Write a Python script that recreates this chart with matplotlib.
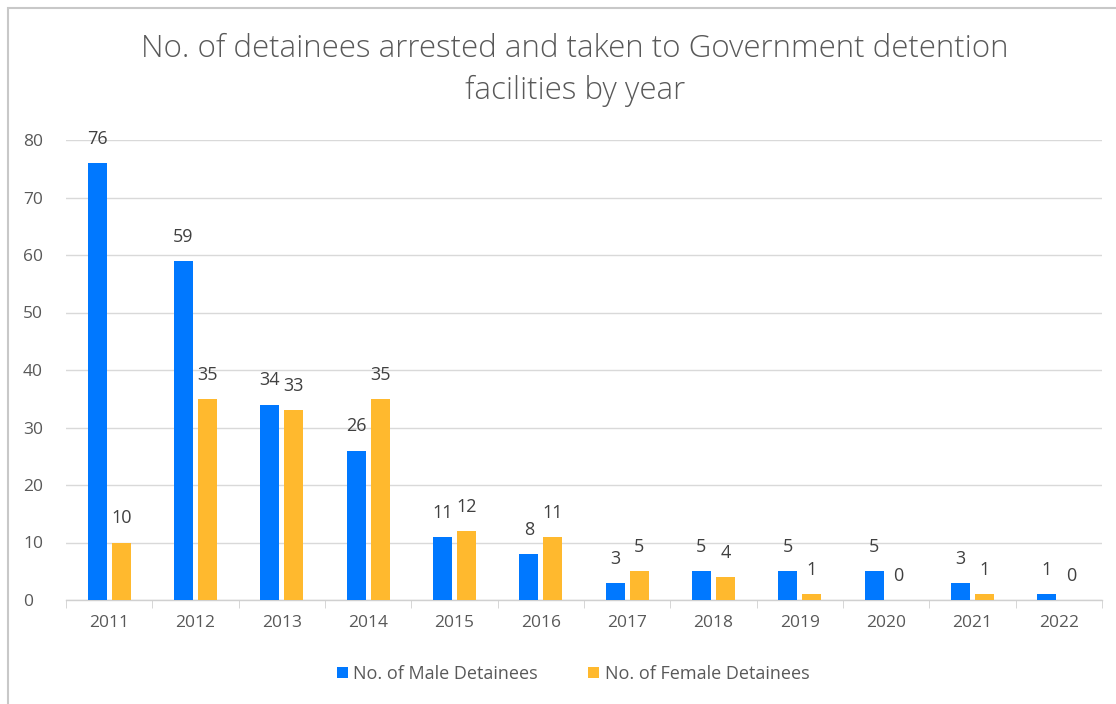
import matplotlib.pyplot as plt
import numpy as np
from matplotlib.patches import Rectangle

years = ["2011", "2012", "2013", "2014", "2015", "2016", "2017", "2018", "2019", "2020", "2021", "2022"]
male = [76, 59, 34, 26, 11, 8, 3, 5, 5, 5, 3, 1]
female = [10, 35, 33, 35, 12, 11, 5, 4, 1, 0, 1, 0]

BLUE = "#0078FF"
ORANGE = "#FFB92E"
TEXT = "#595959"

plt.rcParams.update({"font.family": ["Open Sans", "DejaVu Sans"]})

fig = plt.figure(figsize=(11.16, 7.04), dpi=100)
W, H = 1116, 704
ax = fig.add_axes([66 / W, 1 - 600 / H, (1102 - 66) / W, (600 - 140) / H])

# outer chart frame (Excel style)
fig.patches.append(Rectangle((8 / W, -0.1), 1.2, 1 - 8 / H + 0.1, transform=fig.transFigure,
                             fill=False, edgecolor="#c8c8c8", linewidth=1.5))

x = np.arange(len(years))
width = 0.22
off = 0.14
bm = ax.bar(x - off, male, width, color=BLUE, label="No. of Male Detainees", zorder=3)
bf = ax.bar(x + off, female, width, color=ORANGE, label="No. of Female Detainees", zorder=3)

for bars, vals in ((bm, male), (bf, female)):
    for b, v in zip(bars, vals):
        ax.text(b.get_x() + b.get_width() / 2, v + 4.2, str(v), ha="center", va="center",
                fontsize=13, color="#404040")

ax.set_xlim(-0.5, len(years) - 0.5)
ax.set_ylim(0, 80)
ax.set_yticks(range(0, 81, 10))
ax.set_xticks(x, years)
ax.set_xticks(np.arange(-0.5, len(years), 1), minor=True)
ax.tick_params(axis="x", which="major", length=0, pad=11, labelsize=12.5, labelcolor=TEXT)
ax.tick_params(axis="x", which="minor", length=6, color="#d0d0d0", direction="out")
ax.tick_params(axis="y", length=0, pad=31, labelsize=12.5, labelcolor=TEXT)
for lab in ax.get_yticklabels():
    lab.set_horizontalalignment("left")
ax.grid(True, axis="y", color="#d9d9d9", linewidth=1, zorder=0)
for s in ("top", "right", "left"):
    ax.spines[s].set_visible(False)
ax.spines["bottom"].set_color("#d0d0d0")
ax.spines["bottom"].set_linewidth(1)

fig.text(575 / W, 1 - 70 / H, "No. of detainees arrested and taken to Government detention\nfacilities by year",
         ha="center", va="center", fontsize=22.5, color=TEXT, linespacing=1.4, fontweight="light")

fig.legend(handles=[bm, bf], loc="center", bbox_to_anchor=(573 / W, 1 - 674 / H), ncol=2,
           frameon=False, fontsize=13, labelcolor=TEXT, handlelength=0.6, handleheight=0.6,
           handletextpad=0.3, columnspacing=2.8)

fig.savefig("out.png", dpi=100)
